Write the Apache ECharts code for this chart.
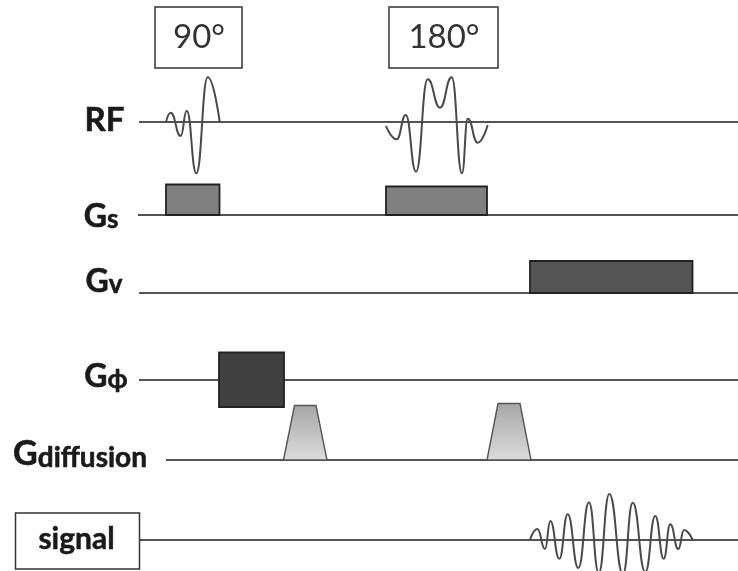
<!DOCTYPE html>
<html>
<head>
<meta charset="utf-8">
<style>html,body{margin:0;padding:0;background:#fff}#c{width:738px;height:571px}</style>
<script src="https://cdn.jsdelivr.net/npm/echarts@6/dist/echarts.min.js"></script>
</head>
<body>
<div id="c"></div>
<script>
// Channel baselines: [level, startTime]
const baseRF = [122, 139];
const baseGs = [215, 138];
const baseGv = [293, 139];
const basePhi = [380, 139];
const baseDiff = [460, 166];
const baseSig = [540, 139];
const endTime = 738;

// Waveforms [time, level]
const rf90 = [[166,122],[170.7,112.7],[180.7,136],[186.7,110.7],[196.3,173.3],[207.7,77.3],[219.7,122]];
const rf180 = [[386,126],[396.7,139.3],[405.7,115],[416,171.7],[427.7,79.3],[440,107.7],[451.7,77.3],[462,173.3],[467.7,118.7],[477.7,142.7],[487.7,125]];
const echo = [[530,540],[537.3,529],[545,549],[550.3,521],[559.3,558.7],[567.7,514.3],[578.3,568],[589,502.3],[598.7,573],[609.3,494],[623,574],[632.7,502.7],[645.3,572],[655.3,516],[663.7,558.7],[670.3,524.3],[678.3,549],[684,530],[692.7,540]];

// Gradient lobes: [start, end, top, bottom]
const gsLobes = [[166,219.5,184.5,215],[386,487,186.5,215]];
const gvLobes = [[530,692.5,261,293]];
const phiLobes = [[219,284,352.5,407]];
// Diffusion lobes: [startBase, startTop, endTop, endBase, top, bottom]
const diffLobes = [[283.5,294.5,316,327,405.5,460],[487,498,520,531,403.5,460]];
// Flip-angle and signal boxes: [start, end, top, bottom, text]
const boxes = [[155,242,7,68,'90°'],[389,498,7,68,'180°'],[15.5,139.5,513,569,'signal']];
// Channel labels: [time, level, main, sub]
const labels = [[104.5,119,'RF',''],[101,215,'G','s'],[104,279.5,'G','v'],[106,375,'G','ϕ'],[80,453.5,'G','diffusion']];

function lineSeries(data, color, width, smooth, z) {
  return {type:'line', data, showSymbol:false, symbol:'none', smooth:smooth||false, smoothMonotone:smooth?'x':undefined,
    silent:true, animation:false, clip:false, z:z, lineStyle:{color, width}};
}
function baseline(b) { return lineSeries([[b[1],b[0]],[endTime,b[0]]], '#1a1a1a', 1.6, false, 1); }
function lobeSeries(data, fill) {
  return {type:'custom', data, silent:true, animation:false, clip:false, z:3,
    encode:{x:[0,1],y:[2,3]},
    renderItem(p, api) {
      const a = api.coord([api.value(0), api.value(2)]);
      const b = api.coord([api.value(1), api.value(3)]);
      return {type:'rect', shape:{x:a[0],y:a[1],width:b[0]-a[0],height:b[1]-a[1]},
        style:{fill, stroke:'#222', lineWidth:1.8}};
    }};
}
const diffSeries = {type:'custom', data:diffLobes, silent:true, animation:false, clip:false, z:3,
  encode:{x:[0,3],y:[4,5]},
  renderItem(p, api) {
    const top = api.value(4), bot = api.value(5);
    const pts = [[api.value(0),bot],[api.value(1),top],[api.value(2),top],[api.value(3),bot]].map(q => api.coord(q));
    return {type:'polygon', shape:{points:pts},
      style:{fill:new echarts.graphic.LinearGradient(0,0,0,1,[{offset:0,color:'#a6a6a6'},{offset:1,color:'#dcdcdc'}]),
        stroke:'#555', lineWidth:1.4}};
  }};
const boxSeries = {type:'custom', data:boxes, silent:true, animation:false, clip:false, z:3,
  encode:{x:[0,1],y:[2,3]},
  renderItem(p, api) {
    const a = api.coord([api.value(0), api.value(2)]);
    const b = api.coord([api.value(1), api.value(3)]);
    const t = boxes[p.dataIndex][4];
    const small = t === 'signal';
    return {type:'group', children:[
      {type:'rect', shape:{x:a[0],y:a[1],width:b[0]-a[0],height:b[1]-a[1]},
        style:{fill:'#fff', stroke:'#333', lineWidth:1.5}},
      {type:'text', style:{x:(a[0]+b[0])/2 + (small?-1:0.5), y:(a[1]+b[1])/2 + (small?-2:0), text:t, align:'center', verticalAlign:'middle',
        font:(small?'bold 30px':'33px')+' Lato', fill:small?'#1a1a1a':'#333',
        stroke:small?'#1a1a1a':null, lineWidth:small?0.5:0}}
    ]};
  }};
const labelSeries = {type:'custom', data:labels, silent:true, animation:false, clip:false, z:3,
  encode:{x:0,y:1},
  renderItem(p, api) {
    const r = labels[p.dataIndex];
    const c = api.coord([r[0], r[1]]);
    const text = r[3] ? '{m|'+r[2]+'}{s|'+r[3]+'}' : '{m|'+r[2]+'}';
    const isDiff = r[3] === 'diffusion';
    const ink = {fill:'#1a1a1a', stroke:'#1a1a1a', lineWidth:0.6};
    return {type:'text', style:{x:c[0], y:c[1], text, align:'center', verticalAlign:'middle',
      rich:{
        m:Object.assign({font:'bold '+(isDiff?34:r[3]?32:33)+'px Lato', verticalAlign:'bottom', lineHeight:36}, ink),
        s:Object.assign({font:'bold '+(isDiff?28:26)+'px Lato', verticalAlign:'bottom', lineHeight:36}, ink)
      }}};
  }};

const chart = echarts.init(document.getElementById('c'));
chart.setOption({
  animation:false,
  backgroundColor:'#fff',
  grid:{left:0,right:0,top:0,bottom:0},
  xAxis:{type:'value',min:0,max:738,show:false},
  yAxis:{type:'value',min:0,max:571,inverse:true,show:false},
  series:[
    baseline(baseRF), baseline(baseGs), baseline(baseGv), baseline(basePhi), baseline(baseDiff), baseline(baseSig),
    lobeSeries(gsLobes,'#808080'), lobeSeries(gvLobes,'#555555'), lobeSeries(phiLobes,'#404040'),
    diffSeries, boxSeries, labelSeries,
    lineSeries(rf90,'#4a4a4a',2,0.5,4), lineSeries(rf180,'#4a4a4a',2,0.5,4), lineSeries(echo,'#4a4a4a',2,0.5,4)
  ]
});
</script>
</body>
</html>
